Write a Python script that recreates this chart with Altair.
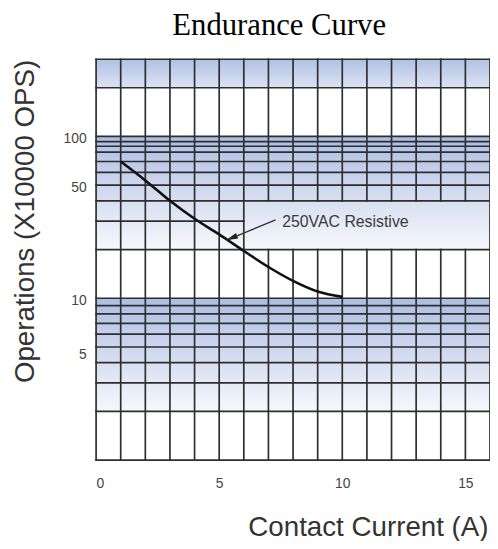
import altair as alt
import pandas as pd

# ---------------- data ----------------
title_text = ["Endurance Curve"]
x_title = "Contact Current (A)"
y_title = "Operations (X10000 OPS)"

current = [1, 2, 3, 4, 5, 6, 7, 8, 9, 10]
operations = [70, 53.5, 40, 31, 24.8, 19.6, 15.6, 12.8, 11.0, 10.2]

x_ticks = [0, 5, 10, 15]
y_ticks = [5, 10, 50, 100]

x_domain = [0, 16]
y_domain = [1, 300]

grid_x = list(range(0, 17))
grid_y = [1, 2, 3, 4, 5, 6, 7, 8, 9, 10,
          20, 30, 40, 50, 60, 70, 80, 87, 93, 100, 200, 300]

band_lo = [2, 20]
band_hi = [10, 100]
top_band = [200, 300]

box_x = [6, 16]
box_y = [20, 40]

label_text = ["250VAC Resistive"]
label_x = [7.56]
label_y = [29.5]
arrow_x = [7.29, 5.28]
arrow_y = [30.5, 22.8]

# ---------------- tables ----------------
curve_df = pd.DataFrame({"x": current, "y": operations})

bands_df = pd.DataFrame({"x0": [x_domain[0]] * len(band_lo), "x1": [x_domain[1]] * len(band_lo),
                         "y0": band_lo, "y1": band_hi})
top_df = pd.DataFrame({"x0": [x_domain[0]], "x1": [x_domain[1]],
                       "y0": [top_band[0]], "y1": [top_band[1]]})

vrows = []
for gx in grid_x:
    if box_x[0] < gx < box_x[1]:
        vrows.append({"x": gx, "y0": y_domain[0], "y1": box_y[0]})
        vrows.append({"x": gx, "y0": box_y[1], "y1": y_domain[1]})
    else:
        vrows.append({"x": gx, "y0": y_domain[0], "y1": y_domain[1]})
vgrid_df = pd.DataFrame(vrows)

hrows = []
for gy in grid_y:
    if box_y[0] < gy < box_y[1]:
        hrows.append({"y": gy, "x0": x_domain[0], "x1": box_x[0]})
    else:
        hrows.append({"y": gy, "x0": x_domain[0], "x1": x_domain[1]})
hgrid_df = pd.DataFrame(hrows)

arrow_df = pd.DataFrame({"x": arrow_x, "y": arrow_y})
tip_df = pd.DataFrame({"x": arrow_x[-1:], "y": arrow_y[-1:]})
label_df = pd.DataFrame({"x": label_x, "y": label_y, "t": label_text})
title_df = pd.DataFrame({"t": title_text})

# ---------------- scales / axes ----------------
xscale = alt.Scale(domain=x_domain, nice=False, zero=False)
yscale = alt.Scale(type="log", domain=y_domain, nice=False)

xaxis = alt.Axis(values=x_ticks, grid=False, ticks=False, domain=False,
                 labelFontSize=14, labelColor="#444", labelPadding=17,
                 labelFont="Liberation Sans",
                 title=x_title, titleFont="Liberation Sans", titleFontSize=28,
                 titleFontWeight="normal", titleColor="#333",
                 titleAlign="right", titleAnchor="end", titleBaseline="alphabetic",
                 titleX=396, titleY=76)
yaxis = alt.Axis(values=y_ticks, grid=False, ticks=False, domain=False,
                 labelFontSize=14, labelColor="#444", labelPadding=10,
                 labelFont="Liberation Sans",
                 labelOffset={"condition": {"test": "datum.value === 5", "value": 8}, "value": 2},
                 title=y_title, titleFont="Liberation Sans", titleFontSize=28,
                 titleFontWeight="normal", titleColor="#333",
                 titleAngle=-90, titleAlign="right", titleBaseline="alphabetic",
                 titleX=-63, titleY=0)


def X(field):
    return alt.X(field, type="quantitative", scale=xscale, axis=xaxis, title=x_title)


def Y(field):
    return alt.Y(field, type="quantitative", scale=yscale, axis=yaxis, title=y_title)


band_grad = alt.LinearGradient(
    gradient="linear", x1=0, y1=0, x2=0, y2=1,
    stops=[alt.GradientStop(offset=0, color="#adbee3"),
           alt.GradientStop(offset=1, color="#f7f8fc")])
top_grad = alt.LinearGradient(
    gradient="linear", x1=0, y1=0, x2=0, y2=1,
    stops=[alt.GradientStop(offset=0, color="#b1c1e4"),
           alt.GradientStop(offset=1, color="#dce3f3")])

bands = alt.Chart(bands_df).mark_rect(color=band_grad).encode(
    x=X("x0"), x2="x1", y=Y("y0"), y2="y1")
topband = alt.Chart(top_df).mark_rect(color=top_grad).encode(
    x=X("x0"), x2="x1", y=Y("y0"), y2="y1")

vgrid = alt.Chart(vgrid_df).mark_rule(color="#2e2e2e", strokeWidth=1.7, strokeCap="square").encode(
    x=X("x"), y=Y("y0"), y2="y1")
hgrid = alt.Chart(hgrid_df).mark_rule(color="#2e2e2e", strokeWidth=1.7, strokeCap="square").encode(
    y=Y("y"), x=X("x0"), x2="x1")

curve = alt.Chart(curve_df).mark_line(color="#111", strokeWidth=2.6, interpolate="monotone").encode(
    x=X("x"), y=Y("y"))

arrow = alt.Chart(arrow_df).mark_line(color="#333", strokeWidth=1.3).encode(
    x=X("x"), y=Y("y"))
tip = alt.Chart(tip_df).mark_point(shape="M0,0L-2.4,-0.6L-2.4,0.6Z", filled=True, size=100,
                                   angle=157.5, color="#222", opacity=1).encode(
    x=X("x"), y=Y("y"))

label = alt.Chart(label_df).mark_text(align="left", baseline="middle", font="Liberation Sans",
                                      fontSize=16, color="#3a3a3a").encode(
    x=X("x"), y=Y("y"), text="t:N")

# chart title, placed above the plot area (pixel offsets relative to the plot)
title = alt.Chart(title_df).mark_text(align="center", baseline="alphabetic",
                                      font="Liberation Serif", fontSize=31,
                                      color="black").encode(
    x=alt.value(185), y=alt.value(-24), text="t:N")

chart = alt.layer(topband, bands, vgrid, hgrid, curve, arrow, tip, label, title).properties(
    width=398, height=405,
    autosize=alt.AutoSizeParams(type="none"),
    padding={"left": 89, "top": 49, "right": 0, "bottom": 79},
).configure_view(stroke=None).configure(background="white")

chart.save("out.html", embed_options={"renderer": "svg", "actions": False})
